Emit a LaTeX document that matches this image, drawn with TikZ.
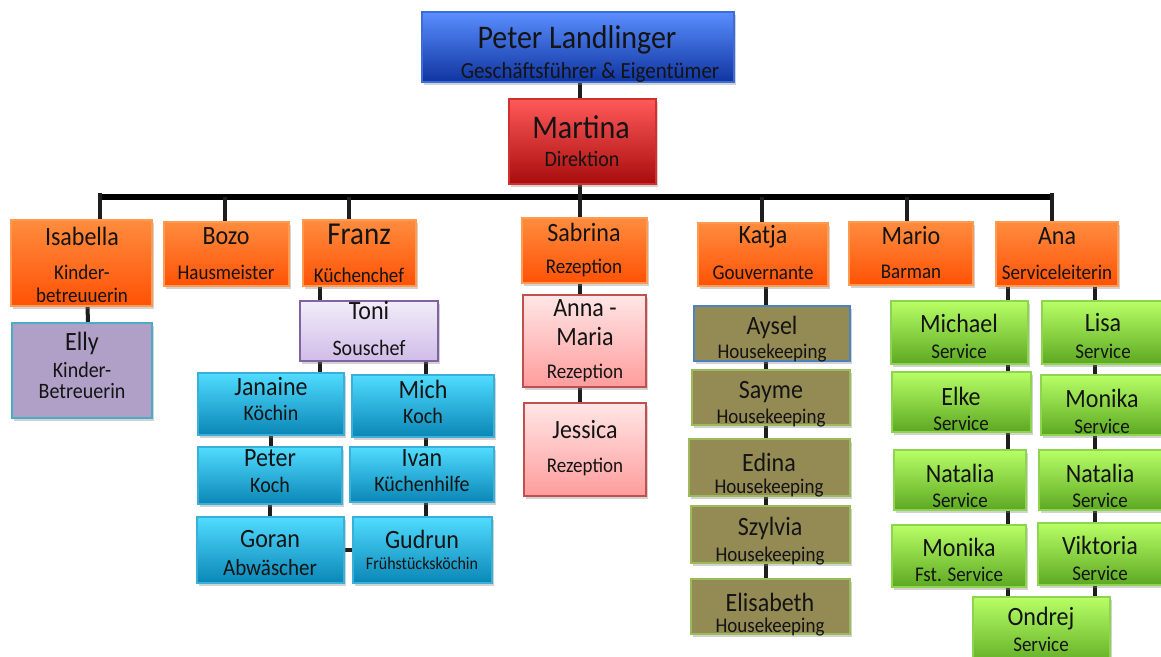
\documentclass[tikz,border=0pt]{standalone}
\usepackage{fontspec}
\setmainfont{Carlito}
\usetikzlibrary{fit,shadows,backgrounds}
\newcommand\fs[1]{\fontsize{#1}{#1}\selectfont}
\newcommand\bx[6]{\node[#1, fit={(#3,#4)(#5,#6)}] (#2) {};}
\newcommand\tx[5]{\node[#1] (#2) at (#3,#4) {\scalebox{1}[1.1]{#5}};}
\definecolor{txt}{HTML}{141414}
\definecolor{lnc}{HTML}{1E1E1E}
\definecolor{blueT}{HTML}{5A8EFF}\definecolor{blueB}{HTML}{0F34A0}\definecolor{blueD}{HTML}{3C6CD8}
\definecolor{redT}{HTML}{FF5A5A}\definecolor{redB}{HTML}{A80C0C}\definecolor{redD}{HTML}{D03030}
\definecolor{orT}{HTML}{FF8C3E}\definecolor{orB}{HTML}{FF5206}\definecolor{orD}{HTML}{FF9A50}
\definecolor{ellyF}{HTML}{B0A0C8}\definecolor{ellyD}{HTML}{4BACC6}
\definecolor{toT}{HTML}{F2EDF9}\definecolor{toB}{HTML}{D0BCE8}\definecolor{toD}{HTML}{8064A2}
\definecolor{cyT}{HTML}{50DCFF}\definecolor{cyB}{HTML}{0A86B6}\definecolor{cyD}{HTML}{38B0D8}
\definecolor{pkT}{HTML}{FFE6E6}\definecolor{pkB}{HTML}{FF9C9C}\definecolor{pkD}{HTML}{C0504D}
\definecolor{olF}{HTML}{948A54}\definecolor{olD}{HTML}{9BBB59}\definecolor{olBl}{HTML}{4F81BD}
\definecolor{grT}{HTML}{B8FF66}\definecolor{grB}{HTML}{5CA822}\definecolor{grD}{HTML}{8ED44E}
\tikzset{
  box/.style={draw, line width=1.2pt, inner sep=0pt, outer sep=0pt,
    drop shadow={opacity=0.35, shadow xshift=2pt, shadow yshift=-3pt}},
  bluebox/.style={box, top color=blueT, bottom color=blueB, draw=blueD},
  redbox/.style={box, top color=redT, bottom color=redB, draw=redD},
  orangebox/.style={box, top color=orT, bottom color=orB, draw=orD},
  ellybox/.style={box, fill=ellyF, draw=ellyD},
  tonibox/.style={box, top color=toT, bottom color=toB, draw=toD},
  cyanbox/.style={box, top color=cyT, bottom color=cyB, draw=cyD},
  pinkbox/.style={box, top color=pkT, bottom color=pkB, draw=pkD},
  olivebox/.style={box, fill=olF, draw=olD},
  oliveblue/.style={box, fill=olF, draw=olBl},
  greenbox/.style={box, top color=grT, bottom color=grB, draw=grD},
  nm/.style={font=\fs{24}, text=txt, inner sep=0pt},
  big/.style={font=\fs{30}, text=txt, inner sep=0pt},
  sb/.style={font=\fs{19}, text=txt, inner sep=0pt},
  sbs/.style={font=\fs{16}, text=txt, inner sep=0pt},
  conn/.style={draw=lnc, line width=4pt},
  bus/.style={draw=black, line width=6pt},
}
\begin{document}
\begin{tikzpicture}[x=1pt,y=-1pt]
\useasboundingbox (0,0) rectangle (1161,656);
% boxes
\bx{bluebox}{peter}{422}{12}{734}{82}
\bx{redbox}{martina}{509}{99}{656}{184}
\bx{orangebox}{isabella}{11}{220}{152}{306}
\bx{orangebox}{bozo}{164}{222}{289}{286}
\bx{orangebox}{franz}{303}{220}{416}{286}
\bx{orangebox}{sabrina}{522}{218}{647}{283}
\bx{orangebox}{katja}{698}{223}{828}{286}
\bx{orangebox}{mario}{849}{222}{973}{285}
\bx{orangebox}{ana}{996}{222}{1118}{286}
\bx{ellybox}{elly}{12}{323}{152}{418}
\bx{tonibox}{toni}{300}{301}{438}{361}
\bx{cyanbox}{janaine}{198}{373}{344}{435}
\bx{cyanbox}{mich}{352}{375}{494}{437}
\bx{cyanbox}{peterk}{198}{447}{342}{504}
\bx{cyanbox}{ivan}{350}{447}{494}{502}
\bx{cyanbox}{goran}{197}{517}{344}{583}
\bx{cyanbox}{gudrun}{353}{517}{492}{583}
\bx{pinkbox}{annamaria}{523}{295}{646}{387}
\bx{pinkbox}{jessica}{524}{403}{646}{496}
\bx{oliveblue}{aysel}{694}{306}{850}{361}
\bx{olivebox}{sayme}{692}{370}{850}{425}
\bx{olivebox}{edina}{689}{439}{850}{496}
\bx{olivebox}{szylvia}{691}{506}{850}{563}
\bx{olivebox}{elisabeth}{691}{579}{850}{634}
\bx{greenbox}{michael}{891}{301}{1028}{364}
\bx{greenbox}{lisa}{1042}{301}{1168}{364}
\bx{greenbox}{elke}{892}{372}{1031}{432}
\bx{greenbox}{monikaR}{1041}{375}{1168}{435}
\bx{greenbox}{nataliaL}{894}{450}{1026}{510}
\bx{greenbox}{nataliaR}{1039}{450}{1168}{510}
\bx{greenbox}{monikaL}{892}{525}{1026}{587}
\bx{greenbox}{viktoria}{1038}{523}{1168}{585}
\bx{greenbox}{ondrej}{973}{597}{1110}{668}
% texts
\tx{big}{peterN}{577}{40}{Peter Landlinger}
\tx{sb,font=\fs{21}}{peterS}{590}{72}{Geschäftsführer \& Eigentümer}
\tx{big}{martinaN}{581}{127}{Martina}
\tx{sb,font=\fs{20}}{martinaS}{582}{159}{Direktion}
\tx{nm}{isabellaN}{82}{236}{Isabella}
\tx{sb}{isabellaS1}{82}{272}{Kinder-}
\tx{sb}{isabellaS2}{82}{295}{betreuuerin}
\tx{nm}{bozoN}{226}{236}{Bozo}
\tx{sb}{bozoS}{226}{272}{Hausmeister}
\tx{nm,font=\fs{29}}{franzN}{359}{234}{Franz}
\tx{sb}{franzS}{359}{275}{Küchenchef}
\tx{nm}{sabrinaN}{584}{232}{Sabrina}
\tx{sb}{sabrinaS}{584}{268}{Rezeption}
\tx{nm}{katjaN}{763}{237}{Katja}
\tx{sb}{katjaS}{763}{273}{Gouvernante}
\tx{nm}{marioN}{911}{236}{Mario}
\tx{sb}{marioS}{911}{272}{Barman}
\tx{nm}{anaN}{1057}{236}{Ana}
\tx{sb}{anaS}{1057}{272}{Serviceleiterin}
\tx{nm}{ellyN}{82}{343}{Elly}
\tx{sb,font=\fs{20}}{ellyS1}{82}{370}{Kinder-}
\tx{sb,font=\fs{20}}{ellyS2}{82}{391}{Betreuerin}
\tx{nm}{toniN}{369}{311}{Toni}
\tx{sb,font=\fs{20}}{toniS}{369}{348}{Souschef}
\tx{nm}{janaineN}{271}{387}{Janaine}
\tx{sb,font=\fs{20}}{janaineS}{271}{413}{Köchin}
\tx{nm}{michN}{423}{389}{Mich}
\tx{sb,font=\fs{20}}{michS}{423}{416}{Koch}
\tx{nm}{peterkN}{270}{458}{Peter}
\tx{sb,font=\fs{20}}{peterkS}{270}{485}{Koch}
\tx{nm}{ivanN}{422}{458}{Ivan}
\tx{sb,font=\fs{20}}{ivanS}{422}{484}{Küchenhilfe}
\tx{nm}{goranN}{270}{539}{Goran}
\tx{sb,font=\fs{21}}{goranS}{270}{568}{Abwäscher}
\tx{nm}{gudrunN}{422}{539}{Gudrun}
\tx{sbs}{gudrunS}{422}{563}{Frühstücksköchin}
\tx{nm}{annamariaN1}{585}{308}{Anna -}
\tx{nm}{annamariaN2}{585}{337}{Maria}
\tx{sb}{annamariaS}{585}{373}{Rezeption}
\tx{nm}{jessicaN}{585}{430}{Jessica}
\tx{sb}{jessicaS}{585}{467}{Rezeption}
\tx{nm}{ayselN}{772}{327}{Aysel}
\tx{sb}{ayselS}{772}{353}{Housekeeping}
\tx{nm}{saymeN}{771}{392}{Sayme}
\tx{sb}{saymeS}{771}{418}{Housekeeping}
\tx{nm}{edinaN}{769}{462}{Edina}
\tx{sb}{edinaS}{769}{488}{Housekeeping}
\tx{nm}{szylviaN}{770}{528}{Szylvia}
\tx{sb}{szylviaS}{770}{556}{Housekeeping}
\tx{nm}{elisabethN}{770}{602}{Elisabeth}
\tx{sb}{elisabethS}{770}{627}{Housekeeping}
\tx{nm}{michaelN}{959}{323}{Michael}
\tx{sb}{michaelS}{959}{351}{Service}
\tx{nm}{lisaN}{1103}{323}{Lisa}
\tx{sb}{lisaS}{1103}{351}{Service}
\tx{nm}{elkeN}{961}{396}{Elke}
\tx{sb}{elkeS}{961}{423}{Service}
\tx{nm}{monikaRN}{1102}{398}{Monika}
\tx{sb}{monikaRS}{1102}{426}{Service}
\tx{nm}{nataliaLN}{960}{473}{Natalia}
\tx{sb}{nataliaLS}{960}{500}{Service}
\tx{nm}{nataliaRN}{1100}{473}{Natalia}
\tx{sb}{nataliaRS}{1100}{500}{Service}
\tx{nm}{monikaLN}{959}{547}{Monika}
\tx{sb}{monikaLS}{959}{574}{Fst. Service}
\tx{nm}{viktoriaN}{1100}{545}{Viktoria}
\tx{sb}{viktoriaS}{1100}{573}{Service}
\tx{nm}{ondrejN}{1041}{619}{Ondrej}
\tx{sb}{ondrejS}{1041}{644}{Service}
% connectors
\begin{pgfonlayer}{background}
\fill[white] (0,0) rectangle (1161,656);
\coordinate (busL) at (100,197);
\coordinate (busR) at (1052,197);
\coordinate (dI) at (100,193);
\coordinate (dB) at (225,197);
\coordinate (dF) at (349,197);
\coordinate (dK) at (762,197);
\coordinate (dM) at (907,197);
\coordinate (dA) at (1052,193);
\coordinate (kx1) at (320,0);
\coordinate (kx2) at (426,0);
\coordinate (kx3) at (580,0);
\coordinate (kx4) at (766,0);
\coordinate (gl) at (1008,0);
\coordinate (gr) at (1095,0);
\draw[conn] (peter.south -| kx3) -- (martina.north -| kx3);
\draw[bus] (busL) -- (busR);
\draw[conn] (martina.south -| kx3) -- (sabrina.north -| kx3);
\draw[conn] (dI) -- (dI |- isabella.north);
\draw[conn] (dB) -- (dB |- bozo.north);
\draw[conn] (dF) -- (dF |- franz.north);
\draw[conn] (dK) -- (dK |- katja.north);
\draw[conn] (dM) -- (dM |- mario.north);
\draw[conn] (dA) -- (dA |- ana.north);
\draw[conn] ([xshift=6pt]isabella.south) -- ([xshift=6pt]elly.north);
\draw[conn] (kx1 |- franz.south) -- (kx1 |- toni.north);
\draw[conn] (kx1 |- toni.south) -- (kx1 |- janaine.north);
\draw[conn] (kx2 |- toni.south) -- (kx2 |- mich.north);
\draw[conn] (janaine.south) -- (janaine.south |- peterk.north);
\draw[conn] (peterk.south) -- (peterk.south |- goran.north);
\draw[conn] (kx2 |- mich.south) -- (kx2 |- ivan.north);
\draw[conn] (kx2 |- ivan.south) -- (kx2 |- gudrun.north);
\draw[conn] (goran.east) -- (gudrun.west);
\draw[conn] (kx3 |- sabrina.south) -- (kx3 |- annamaria.north);
\draw[conn] (kx3 |- annamaria.south) -- (kx3 |- jessica.north);
\draw[conn] (kx4 |- katja.south) -- (kx4 |- aysel.north);
\draw[conn] (kx4 |- aysel.south) -- (kx4 |- sayme.north);
\draw[conn] (kx4 |- sayme.south) -- (kx4 |- edina.north);
\draw[conn] (kx4 |- edina.south) -- (kx4 |- szylvia.north);
\draw[conn] (kx4 |- szylvia.south) -- (kx4 |- elisabeth.north);
\draw[conn] (gl |- ana.south) -- (gl |- michael.north);
\draw[conn] (gl |- michael.south) -- (gl |- elke.north);
\draw[conn] (gl |- elke.south) -- (gl |- nataliaL.north);
\draw[conn] (gl |- nataliaL.south) -- (gl |- monikaL.north);
\draw[conn] (gl |- monikaL.south) -- (gl |- ondrej.north);
\draw[conn] (gr |- ana.south) -- (gr |- lisa.north);
\draw[conn] (gr |- lisa.south) -- (gr |- monikaR.north);
\draw[conn] (gr |- monikaR.south) -- (gr |- nataliaR.north);
\draw[conn] (gr |- nataliaR.south) -- (gr |- viktoria.north);
\draw[conn] (gr |- viktoria.south) -- (gr |- ondrej.north);
\end{pgfonlayer}
\end{tikzpicture}
\end{document}
